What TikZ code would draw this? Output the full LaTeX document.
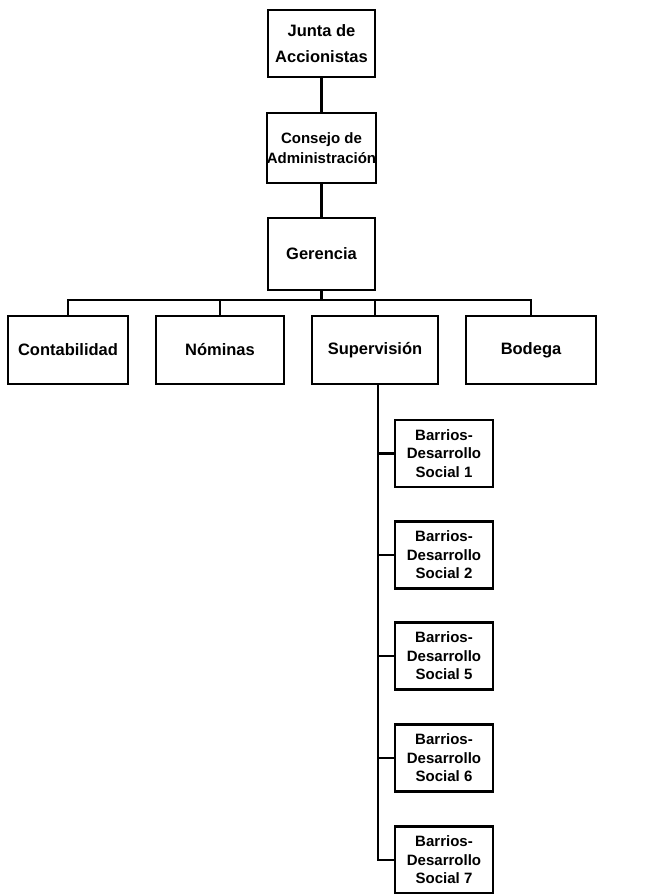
\documentclass[tikz,border=0pt]{standalone}
\usepackage{fontspec}
\setmainfont{Liberation Sans}
\begin{document}
\begin{tikzpicture}[x=1pt,y=-1pt,
  box/.style={draw=black, line width=2.1pt, fill=white, inner sep=0pt, align=center,
    font=\bfseries\fontsize{16.5}{19}\selectfont},
  sub/.style={box, minimum width=98pt, minimum height=67pt,
    font=\bfseries\fontsize{15}{18.5}\selectfont},
  link/.style={draw=black, line width=2.1pt}]
\useasboundingbox (0,0) rectangle (666,894);
% top chain
\node[box, minimum width=107pt, minimum height=67pt,
  font=\bfseries\fontsize{16.5}{26}\selectfont] (junta) at (321.5,43.5) {Junta de\\Accionistas};
\node[box, minimum width=107pt, minimum height=70pt,
  font=\bfseries\fontsize{15}{20}\selectfont] (consejo) at (321.5,148) {Consejo de\\Administración};
\node[box, minimum width=107pt, minimum height=72pt] (gerencia) at (321.5,254) {Gerencia};
% second row
\node[box, minimum width=120pt, minimum height=68pt] (conta) at (68,350) {Contabilidad};
\node[box, minimum width=128pt, minimum height=68pt] (nomi) at (220,350) {Nóminas};
\node[box, minimum width=126pt, minimum height=68pt] (super) at (375,350) {Supervisión};
\node[box, minimum width=130pt, minimum height=68pt] (bodega) at (531,350) {Bodega};
% barrios
\node[sub] (b1) at (444,453.5) {Barrios-\\Desarrollo\\Social 1};
\node[sub] (b2) at (444,555) {Barrios-\\Desarrollo\\Social 2};
\node[sub] (b5) at (444,656) {Barrios-\\Desarrollo\\Social 5};
\node[sub] (b6) at (444,758) {Barrios-\\Desarrollo\\Social 6};
\node[sub] (b7) at (444,860) {Barrios-\\Desarrollo\\Social 7};
% connectors
\draw[link] (junta.south) -- (consejo.north);
\draw[link] (consejo.south) -- (gerencia.north);
\coordinate (bus) at (321.5,300);
\draw[link] (gerencia.south) -- (bus);
\draw[link] (conta.north) |- (bus);
\draw[link] (nomi.north) |- (bus);
\draw[link] (super.north) |- (bus);
\draw[link] (bodega.north) |- (bus);
\coordinate (spine) at (378,384);
\draw[link] (spine) |- (b7.west);
\draw[link] (spine |- b1.west) -- (b1.west);
\draw[link] (spine |- b2.west) -- (b2.west);
\draw[link] (spine |- b5.west) -- (b5.west);
\draw[link] (spine |- b6.west) -- (b6.west);
\end{tikzpicture}
\end{document}
